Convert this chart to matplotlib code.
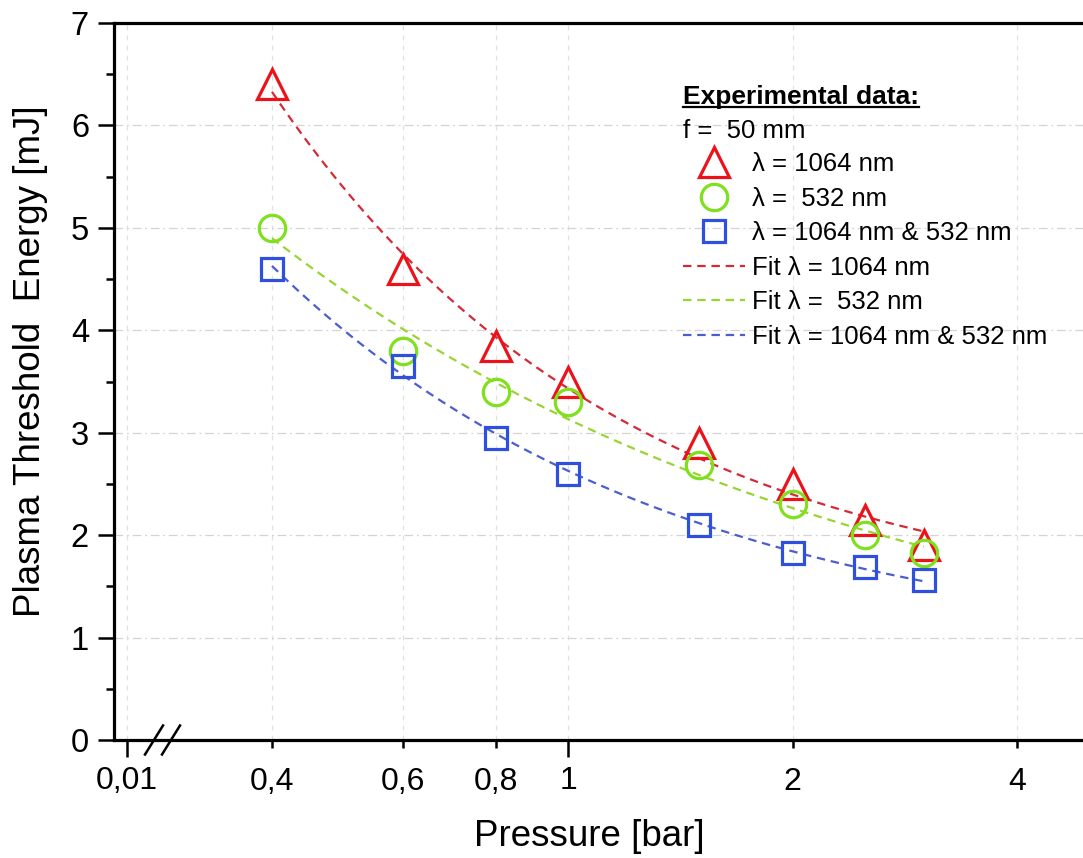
import numpy as np
import matplotlib
matplotlib.use("Agg")
import matplotlib.pyplot as plt
from matplotlib.lines import Line2D
from matplotlib.ticker import FixedLocator, FixedFormatter

# Measured plasma threshold energies
pressure_bar = [0.4, 0.6, 0.8, 1.0, 1.5, 2.0, 2.5, 3.0]
energy_1064 = [6.40, 4.60, 3.85, 3.50, 2.90, 2.50, 2.15, 1.90]
energy_532 = [5.00, 3.80, 3.40, 3.30, 2.68, 2.30, 2.00, 1.83]
energy_both = [4.60, 3.65, 2.95, 2.60, 2.10, 1.83, 1.69, 1.56]

major_ticks = [0.01, 1]
minor_ticks = [0.4, 0.6, 0.8, 2, 4]
major_labels = ["0,01", "1"]
minor_labels = ["0,4", "0,6", "0,8", "2", "4"]

legend_labels = [
    "\u03bb = 1064 nm",
    "\u03bb =  532 nm",
    "\u03bb = 1064 nm & 532 nm",
    "Fit \u03bb = 1064 nm",
    "Fit \u03bb =  532 nm",
    "Fit \u03bb = 1064 nm & 532 nm",
]

RED, GREEN, BLUE = "#ec1219", "#7fe01c", "#2f50dc"
RED_FIT, GREEN_FIT, BLUE_FIT = "#d42a36", "#98d434", "#4b5ed0"

plt.rcParams["font.family"] = ["Liberation Sans", "DejaVu Sans"]

# Broken axis: linear stub holding 0.01, log scale from 0.3 upward
BREAK = 0.3
STUB_POS = -0.5927
SLOPE = (np.log10(BREAK) - STUB_POS) / (BREAK - 0.01)


def fwd(x):
    x = np.asarray(x, dtype=float)
    return np.where(x >= BREAK, np.log10(np.maximum(x, 1e-12)),
                    STUB_POS + (x - 0.01) * SLOPE)


def inv(y):
    y = np.asarray(y, dtype=float)
    return np.where(y >= np.log10(BREAK), 10.0 ** y,
                    0.01 + (y - STUB_POS) / SLOPE)


def fit_power_offset(x, y):
    """Least-squares fit of y = a * x**b + c (scan b, solve a and c)."""
    x = np.asarray(x, float)
    y = np.asarray(y, float)
    best = None
    for b in np.linspace(-3.0, -0.05, 1200):
        A = np.column_stack([x ** b, np.ones_like(x)])
        coef = np.linalg.lstsq(A, y, rcond=None)[0]
        r = np.sum((A @ coef - y) ** 2)
        if best is None or r < best[0]:
            best = (r, b, coef)
    _, b, (a, c) = best
    return lambda t: a * t ** b + c


W, H = 1083, 858
fig = plt.figure(figsize=(W / 100, H / 100), dpi=100)
ax = fig.add_axes([114 / W, (H - 740) / H, (W - 114) / W, (740 - 23) / H])
ax.set_xscale("function", functions=(fwd, inv))
ax.set_xlim(-0.062, 4.91)
ax.set_ylim(0, 7)

p_fit = np.geomspace(min(pressure_bar), max(pressure_bar), 200)
series = [
    (energy_1064, RED, RED_FIT, "^", 21.5),
    (energy_532, GREEN, GREEN_FIT, "o", 19),
    (energy_both, BLUE, BLUE_FIT, "s", 16.5),
]
marker_handles, fit_handles = [], []
for e, mc, fc, mk, ms in series:
    model = fit_power_offset(pressure_bar, e)
    fl, = ax.plot(p_fit, model(p_fit), ls=(0, (3.8, 2.6)),
                  color=fc, lw=1.6, zorder=2)
    mh, = ax.plot(pressure_bar, e, ls="none", marker=mk, ms=ms, mfc="none",
                  mec=mc, mew=2.3, zorder=3)
    marker_handles.append(mh)
    fit_handles.append(fl)

# Axes styling
for side in ["left", "bottom", "top"]:
    ax.spines[side].set_linewidth(2.3)
ax.spines["right"].set_visible(False)

ax.xaxis.set_major_locator(FixedLocator(major_ticks))
ax.xaxis.set_major_formatter(FixedFormatter(major_labels))
ax.xaxis.set_minor_locator(FixedLocator(minor_ticks))
ax.xaxis.set_minor_formatter(FixedFormatter(minor_labels))
ax.tick_params(axis="x", which="major", direction="out", length=12, width=1.8,
               pad=7, labelsize=23)
ax.tick_params(axis="x", which="minor", direction="out", length=6, width=1.8,
               pad=13.5, labelsize=23)

ax.set_yticks(range(0, 8))
ax.set_yticks(np.arange(0.5, 7, 1), minor=True)
ax.tick_params(axis="y", which="major", direction="out", length=11.5,
               width=1.8, pad=6.5, labelsize=23.5)
ax.tick_params(axis="y", which="minor", direction="out", length=6, width=1.8)
ax.tick_params(top=False, right=False, which="both")

ax.grid(True, which="major", axis="y", color="#d4d4d4", lw=0.9,
        ls=(0, (7, 3, 1.5, 3)))
ax.grid(True, which="both", axis="x", color="#dde3e3", lw=0.9,
        ls=(0, (4, 4)))
ax.set_axisbelow(True)

ax.set_xlabel("Pressure [bar]", fontsize=26.5)
ax.xaxis.set_label_coords((589 - 114) / (W - 114), -(837 - 740) / (740 - 23),
                          transform=ax.transAxes)
ax.xaxis.label.set_va("center")
ax.set_ylabel("Plasma Threshold  Energy [mJ]", fontsize=26.5)
ax.yaxis.set_label_coords(-(114 - 31) / (W - 114), (740 - 361) / (740 - 23))
ax.yaxis.label.set_va("center")

# Axis break marks
for xc in (154, 171):
    xa = (xc - 114) / (W - 114)
    dx = 9 / (W - 114)
    dy = 14.5 / (740 - 23)
    ax.plot([xa - dx, xa + dx], [-dy, dy], transform=ax.transAxes,
            color="black", lw=1.8, clip_on=False, zorder=5)

# Legend
fs_leg = 18.5
leg = ax.legend(marker_handles + fit_handles, legend_labels,
                loc="upper left", bbox_to_anchor=(683 / W, 1 - 152 / H),
                bbox_transform=fig.transFigure, frameon=False, borderpad=0,
                borderaxespad=0, handlelength=2.41, handletextpad=0.27,
                labelspacing=0.41, fontsize=fs_leg)

hdr = fig.text(683 / W, 1 - 97 / H, "Experimental data:", fontsize=19,
               fontweight="bold", va="center", ha="left")
fig.text(683 / W, 1 - 131 / H, "f =  50 mm", fontsize=fs_leg, va="center",
         ha="left")

fig.canvas.draw()
bb = hdr.get_window_extent().transformed(fig.transFigure.inverted())
fig.add_artist(Line2D([bb.x0, bb.x1], [bb.y0 + 0.002] * 2,
                      transform=fig.transFigure, color="black", lw=1.6))

fig.savefig("out.png", dpi=100)
